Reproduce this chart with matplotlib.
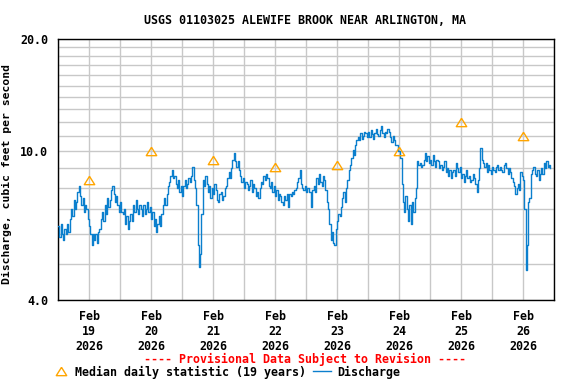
import numpy as np
import matplotlib
matplotlib.use("Agg")
import matplotlib.pyplot as plt
from matplotlib.lines import Line2D
from matplotlib.ticker import FixedLocator, NullFormatter

# ---- data (30-minute discharge, cfs), starting Feb 19 2026 00:00 ----
day1 = [6.3, 5.9, 6.4, 6.0, 5.8, 6.2, 6.0, 6.4, 6.1, 6.6, 7.0, 6.7,
        7.4, 7.0, 7.3, 7.8, 8.1, 7.6, 7.2, 7.5, 6.9, 7.2, 7.0, 6.6,
        6.3, 6.0, 5.6, 6.0, 5.8, 6.0, 5.7, 6.1, 6.2, 6.6, 6.9, 6.5,
        7.2, 6.8, 7.5, 7.1, 7.4, 7.9, 8.1, 7.7, 7.3, 7.6, 7.2, 6.9]
day2 = [7.3, 6.9, 6.8, 7.0, 6.4, 6.7, 6.2, 6.5, 6.8, 6.5, 7.2, 6.9,
        7.4, 7.0, 6.8, 7.2, 7.0, 6.7, 7.2, 6.8, 7.0, 7.3, 6.9, 7.1,
        6.6, 6.9, 6.3, 6.6, 6.1, 6.4, 6.7, 6.3, 6.8, 7.2, 7.5, 7.2,
        7.7, 8.1, 8.3, 8.6, 8.9, 8.5, 8.6, 8.2, 8.0, 8.4, 7.8, 8.1]
day3 = [7.6, 8.1, 8.4, 8.0, 8.2, 8.5, 8.3, 8.6, 9.1, 8.4, 8.0, 7.2,
        5.6, 4.9, 5.3, 6.8, 8.4, 8.1, 8.6, 8.2, 7.8, 8.1, 7.5, 8.0,
        7.7, 8.2, 7.9, 7.4, 7.3, 7.7, 7.8, 7.4, 7.6, 8.0, 8.1, 8.5,
        8.8, 8.5, 9.0, 9.5, 9.9, 9.4, 9.1, 9.4, 8.9, 8.6, 8.3, 8.5]
day4 = [8.0, 8.3, 8.2, 7.9, 8.1, 8.4, 7.8, 8.2, 8.0, 7.6, 7.8, 7.5,
        8.0, 8.3, 8.2, 8.6, 8.4, 8.7, 8.5, 8.1, 8.0, 8.3, 7.8, 8.1,
        7.6, 7.9, 7.4, 7.7, 7.6, 7.3, 7.2, 7.6, 7.4, 7.7, 7.1, 7.7,
        7.6, 7.8, 7.7, 7.9, 8.0, 8.3, 8.5, 8.9, 8.2, 8.0, 7.9, 8.1]
day5 = [7.8, 8.0, 7.8, 7.8, 7.1, 7.9, 8.1, 7.8, 8.5, 8.2, 8.7, 8.3,
        8.1, 8.6, 8.4, 7.9, 7.3, 7.0, 6.4, 5.8, 6.1, 5.7, 5.6, 6.2,
        6.5, 6.8, 6.7, 7.1, 7.5, 7.8, 7.3, 8.0, 8.4, 8.9, 9.2, 9.6,
        10.1, 9.8, 10.4, 10.7, 10.9, 10.7, 11.2, 10.8, 11.0, 11.3, 11.2, 10.9]
day6 = [11.3, 10.9, 11.4, 11.1, 10.8, 11.2, 11.5, 11.1, 11.0, 11.4, 11.7, 11.2,
        10.9, 11.3, 11.2, 11.5, 11.3, 10.9, 10.6, 11.0, 10.7, 10.4, 10.4, 10.0,
        10.0, 9.6, 8.2, 7.3, 6.9, 7.6, 7.0, 6.5, 7.2, 6.4, 7.3, 6.9,
        7.5, 8.0, 9.4, 9.2, 9.3, 9.1, 9.2, 9.5, 9.9, 9.4, 9.7, 9.3]
day7 = [9.5, 9.2, 9.8, 9.4, 9.1, 9.5, 9.4, 9.0, 9.2, 8.9, 9.1, 9.4,
        8.8, 9.0, 8.6, 8.9, 8.5, 8.8, 8.9, 8.6, 9.3, 9.0, 8.8, 9.1,
        8.5, 8.7, 8.3, 8.6, 8.9, 8.5, 8.6, 8.3, 8.4, 8.7, 8.5, 8.2,
        7.8, 8.4, 9.0, 10.2, 9.5, 9.3, 9.1, 9.3, 8.8, 9.2, 8.9, 8.7]
day8 = [9.1, 8.9, 8.8, 9.1, 9.2, 8.9, 9.1, 8.9, 8.8, 9.2, 9.3, 9.0,
        8.7, 9.0, 8.8, 8.5, 8.3, 8.1, 7.7, 8.0, 8.2, 7.9, 8.8, 8.6,
        8.4, 7.0, 4.8, 5.6, 7.3, 7.5, 8.7, 8.9, 9.1, 8.7, 8.6, 8.9,
        8.4, 8.7, 9.0, 8.7, 9.3, 9.0, 9.4, 9.1, 9.2, 9.0]

median_days = [0.5, 1.5, 2.5, 3.5, 4.5, 5.5, 6.5, 7.5]
median_vals = [8.4, 10.0, 9.5, 9.1, 9.2, 10.0, 12.0, 11.0]

day_labels = ["Feb\n19\n2026", "Feb\n20\n2026", "Feb\n21\n2026", "Feb\n22\n2026",
              "Feb\n23\n2026", "Feb\n24\n2026", "Feb\n25\n2026", "Feb\n26\n2026"]
y_major = [4.0, 10.0, 20.0]
y_major_labels = ["4.0", "10.0", "20.0"]
y_minor = [5, 6, 7, 8, 9, 11, 12, 13, 14, 15, 16, 17, 18, 19]

discharge = np.array(day1 + day2 + day3 + day4 + day5 + day6 + day7 + day8)
t = np.arange(len(discharge)) * (0.5 / 24.0)

# ---- styling ----
FONT = dict(family="DejaVu Sans Mono", weight="bold")
BLUE = "#0B7FCD"
ORANGE = "#FFA500"
FS = 8.4

fig = plt.figure(figsize=(5.76, 3.84), dpi=100)
ax = fig.add_axes([58 / 576, 1 - 300 / 384, (554 - 58) / 576, (300 - 39) / 384])

ax.set_yscale("log")
ax.set_ylim(4.0, 20.0)
ax.set_xlim(0, 8)

ax.yaxis.set_major_locator(FixedLocator(y_major))
ax.yaxis.set_minor_locator(FixedLocator(y_minor))
ax.set_yticklabels(y_major_labels, fontsize=FS, **FONT)
ax.yaxis.set_minor_formatter(NullFormatter())

ax.xaxis.set_major_locator(FixedLocator(np.arange(0, 9)))
ax.xaxis.set_major_formatter(NullFormatter())
ax.xaxis.set_minor_locator(FixedLocator(median_days))
ax.set_xticklabels(day_labels, minor=True, fontsize=FS, linespacing=1.2, **FONT)

ax.tick_params(which="both", length=0)
ax.tick_params(axis="x", which="minor", pad=7)
ax.tick_params(axis="y", which="major", pad=7)

ax.grid(True, which="both", color="#C8C8C8", linewidth=1.0)
ax.set_axisbelow(True)
for s in ax.spines.values():
    s.set_linewidth(1.0)
    s.set_color("black")

ax.plot(t, discharge, color=BLUE, linewidth=1.0, drawstyle="steps-post", zorder=3)

tri = [(0, 0.8), (-1, -0.8), (1, -0.8), (0, 0.8)]
MS = 7.5
ax.plot(median_days, median_vals, linestyle="none", marker=tri, markersize=MS,
        markerfacecolor="none", markeredgecolor=ORANGE, markeredgewidth=1.0, zorder=4)

ax.set_ylabel("Discharge, cubic feet per second", fontsize=8.2, **FONT)
ax.yaxis.set_label_coords((12 - 58) / 496, (300 - 174) / 261)

fig.text(305 / 576, 1 - 21 / 384, "USGS 01103025 ALEWIFE BROOK NEAR ARLINGTON, MA",
         ha="center", va="center", fontsize=FS, **FONT)
fig.text(305 / 576, 1 - 359 / 384, "---- Provisional Data Subject to Revision ----",
         ha="center", va="center", fontsize=FS, color="red", **FONT)

# legend row
fig.add_artist(Line2D([61 / 576], [1 - 371 / 384], linestyle="none", marker=tri, markersize=MS,
                      markerfacecolor="none", markeredgecolor=ORANGE, markeredgewidth=1.0,
                      transform=fig.transFigure))
fig.text(75 / 576, 1 - 372 / 384, "Median daily statistic (19 years)",
         ha="left", va="center", fontsize=FS, **FONT)
fig.add_artist(Line2D([313 / 576, 331 / 576], [1 - 371 / 384, 1 - 371 / 384], color=BLUE,
                      linewidth=1.0, transform=fig.transFigure))
fig.text(337 / 576, 1 - 372 / 384, "Discharge", ha="left", va="center", fontsize=FS, **FONT)

fig.savefig("out.png", dpi=100)
